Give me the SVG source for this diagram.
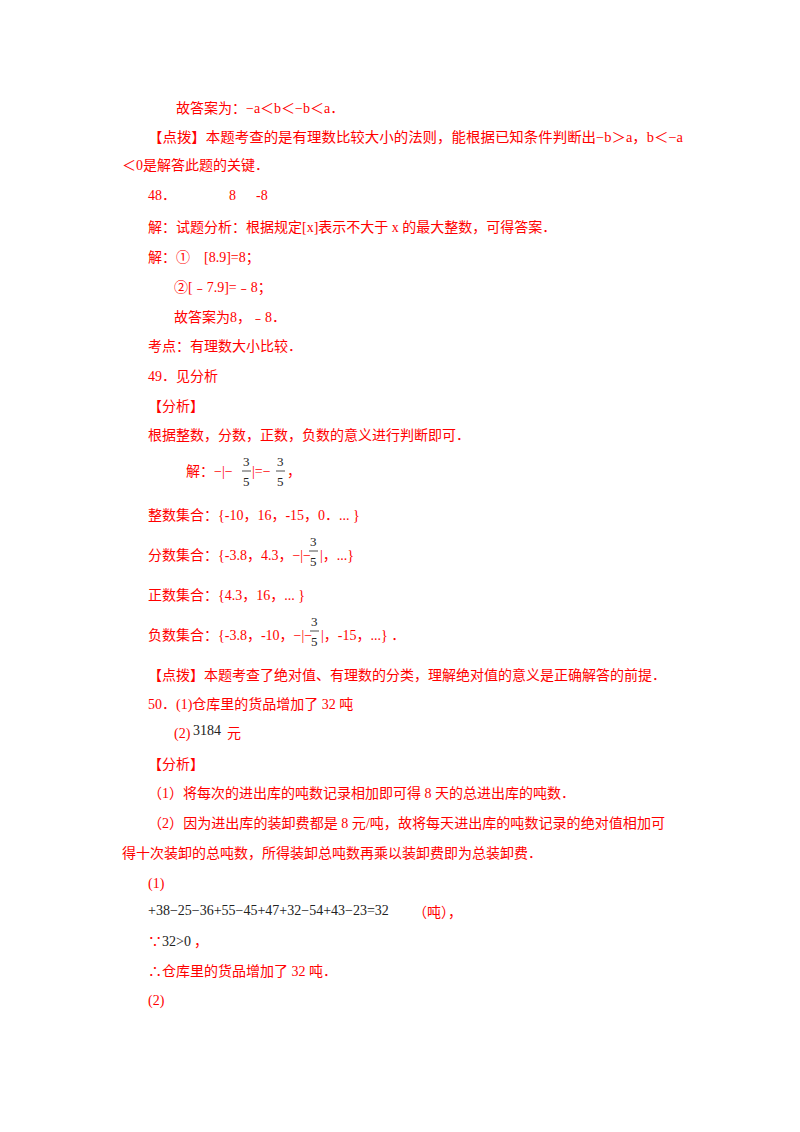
<svg xmlns="http://www.w3.org/2000/svg" width="800" height="1132" viewBox="0 0 800 1132">
<style>
text{font-family:"Liberation Serif","Noto Sans CJK SC",serif;font-size:14px;fill:#ff0000}
.k{fill:#222}
.f{font-size:13px;fill:#222}
line{stroke:#222;stroke-width:0.8}
</style>
<rect width="800" height="1132" fill="#fff"/>
<text x="176" y="113">故答案为：−a＜b＜−b＜a．</text>
<text x="148" y="142" textLength="535" lengthAdjust="spacingAndGlyphs">【点拨】本题考查的是有理数比较大小的法则，能根据已知条件判断出−b＞a，b＜−a</text>
<text x="122" y="170">＜0是解答此题的关键．</text>
<text x="148" y="200">48．</text>
<text x="229" y="200">8</text>
<text x="256" y="200">-8</text>
<text x="148" y="232">解：试题分析：根据规定[x]表示不大于 x 的最大整数，可得答案．</text>
<text x="148" y="262">解：①　[8.9]=8；</text>
<text x="174" y="292">②[﹣7.9]=﹣8；</text>
<text x="174" y="322">故答案为8，﹣8．</text>
<text x="148" y="351">考点：有理数大小比较．</text>
<text x="148" y="381">49．见分析</text>
<text x="148" y="411">【分析】</text>
<text x="148" y="440">根据整数，分数，正数，负数的意义进行判断即可．</text>
<text x="186" y="476">解：−|−</text><text class="f" x="243" y="466">3</text><line x1="242" y1="471" x2="251" y2="471"/><text class="f" x="243" y="486">5</text><text x="252" y="476">|=−</text><text class="f" x="277" y="466">3</text><line x1="276" y1="471" x2="285" y2="471"/><text class="f" x="277" y="486">5</text><text x="287" y="476">，</text>
<text x="148" y="520">整数集合：{-10，16，-15，0．... }</text>
<text x="148" y="560">分数集合：{-3.8，4.3，−|−</text><text class="f" x="310" y="546">3</text><line x1="309" y1="551" x2="318" y2="551"/><text class="f" x="310" y="566">5</text><text x="320" y="560">|，...}</text>
<text x="148" y="600">正数集合：{4.3，16，... }</text>
<text x="148" y="640">负数集合：{-3.8，-10，−|−</text><text class="f" x="311" y="626">3</text><line x1="310" y1="631" x2="319" y2="631"/><text class="f" x="311" y="646">5</text><text x="321" y="640">|，-15，...} ．</text>
<text x="148" y="680">【点拨】本题考查了绝对值、有理数的分类，理解绝对值的意义是正确解答的前提．</text>
<text x="148" y="709">50．(1)仓库里的货品增加了 32 吨</text>
<text x="174" y="738">(2)</text><text class="k" x="193" y="735">3184</text><text x="227" y="738">元</text>
<text x="148" y="769">【分析】</text>
<text x="148" y="798">（1）将每次的进出库的吨数记录相加即可得 8 天的总进出库的吨数．</text>
<text x="148" y="828" textLength="517" lengthAdjust="spacingAndGlyphs">（2）因为进出库的装卸费都是 8 元/吨，故将每天进出库的吨数记录的绝对值相加可</text>
<text x="122" y="858">得十次装卸的总吨数，所得装卸总吨数再乘以装卸费即为总装卸费．</text>
<text x="148" y="888">(1)</text>
<text class="k" x="148" y="915">+38−25−36+55−45+47+32−54+43−23=32</text><text x="413" y="917">（吨），</text>
<text x="148" y="946">∵</text><text class="k" x="162" y="946">32&gt;0</text><text x="194" y="946">，</text>
<text x="148" y="976">∴仓库里的货品增加了 32 吨．</text>
<text x="148" y="1005">(2)</text>
</svg>
